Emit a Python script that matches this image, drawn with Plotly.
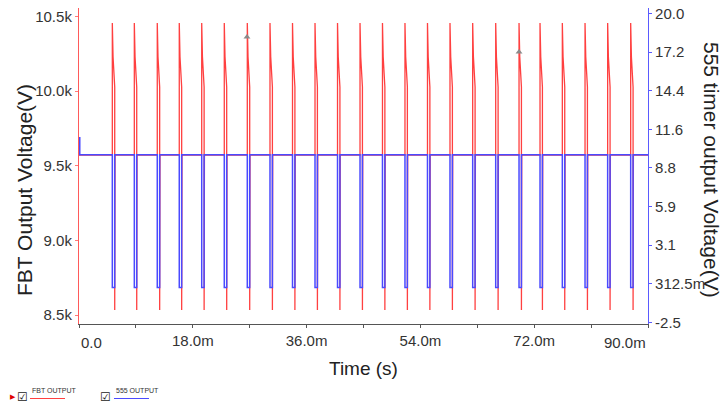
import plotly.graph_objects as go

# ---- data ----
# times of the 555 falling edges / FBT spikes, in ms
pulse_start_ms = [5.27, 8.75, 12.38, 15.86, 19.41, 22.98, 26.62, 30.21, 33.77, 37.33,
                  40.89, 44.45, 48.00, 51.56, 55.12, 58.68, 62.27, 65.91, 69.60, 72.92,
                  76.45, 80.04, 83.62, 87.26]
pulse_width_ms = 0.38
# FBT output levels (V)
fbt_base = 9572
fbt_peak = 10456
fbt_mid = 10230
fbt_knee = 10027
fbt_dip = 8535
# 555 output levels (V)
timer_start = 11.0
timer_high = 9.7
timer_low = 0.05
timer_start_t_ms = 0.12
t_end_ms = 90.0
# probe cursor markers seen on the FBT trace
cursor_t_ms = [26.57, 69.60]
cursor_v = [10362, 10262]

x_tick_vals = [0, 9, 18, 27, 36, 45, 54, 63, 72, 81, 90]
x_tick_text = ["", "", "18.0m", "", "36.0m", "", "54.0m", "", "72.0m", "", ""]
left_tick_vals = [8500, 9000, 9500, 10000, 10500]
left_tick_text = ["8.5k", "9.0k", "9.5k", "10.0k", "10.5k"]
right_tick_vals = [-2.5, 0.3125, 3.125, 5.9375, 8.75, 11.5625, 14.375, 17.1875, 20.0]
right_tick_text = ["-2.5", "312.5m", "3.1", "5.9", "8.8", "11.6", "14.4", "17.2", "20.0"]

# ---- build piecewise waveforms from the read levels ----
fbt_t, fbt_v = [0.0], [fbt_base]
tmr_t = [timer_start_t_ms, timer_start_t_ms]
tmr_v = [timer_start, timer_high]
for t0 in pulse_start_ms:
    fbt_t += [t0, t0, t0 + pulse_width_ms * 0.3, t0 + pulse_width_ms,
              t0 + pulse_width_ms, t0 + pulse_width_ms + 0.05]
    fbt_v += [fbt_base, fbt_peak, fbt_mid, fbt_knee, fbt_dip, fbt_base]
    tmr_t += [t0, t0, t0 + pulse_width_ms, t0 + pulse_width_ms]
    tmr_v += [timer_high, timer_low, timer_low, timer_high]
fbt_t.append(t_end_ms); fbt_v.append(fbt_base)
tmr_t.append(t_end_ms); tmr_v.append(timer_high)

FONT = "Liberation Sans, Arial, sans-serif"
TXT = "#333333"
TTL = "#222222"

# plot area in figure pixels
L, R, T, B = 79, 648, 8, 324
W, H = 727, 409


def px(x):
    return (x - L) / (R - L)


def py(y):
    return (B - y) / (B - T)


fig = go.Figure()
fig.add_trace(go.Scatter(x=fbt_t, y=fbt_v, mode="lines", name="FBT OUTPUT",
                         line=dict(color="#ff4040", width=1.3), yaxis="y"))
fig.add_trace(go.Scatter(x=cursor_t_ms, y=cursor_v, mode="markers", name="cursor",
                         marker=dict(symbol="triangle-up", size=6, color="#8a8a8a"),
                         yaxis="y"))
fig.add_trace(go.Scatter(x=tmr_t, y=tmr_v, mode="lines", name="555 OUTPUT",
                         line=dict(color="#4a4aff", width=1.5), yaxis="y2"))

fig.update_layout(
    width=W, height=H,
    margin=dict(l=L, r=W - R, t=T, b=H - B),
    paper_bgcolor="white", plot_bgcolor="white",
    showlegend=False,
    font=dict(family=FONT, size=15, color=TXT),
    xaxis=dict(range=[0, 90], tickvals=x_tick_vals, ticktext=x_tick_text, automargin=False,
               showgrid=False, zeroline=False, showline=True, linecolor="#555555",
               linewidth=1, ticks="outside", ticklen=3, tickcolor="#555555",
               layer="below traces",
               tickfont=dict(size=15, color=TXT, family=FONT)),
    yaxis=dict(range=[8441, 10556], tickvals=left_tick_vals, ticktext=left_tick_text,
               automargin=False, layer="below traces",
               showgrid=False, zeroline=False, showline=True, linecolor="#ff5a5a",
               linewidth=1.2, ticks="outside", ticklen=3, tickcolor="#ff7a7a",
               tickfont=dict(size=15, color=TXT, family=FONT)),
    yaxis2=dict(range=[-2.61, 20.39], tickvals=right_tick_vals, ticktext=right_tick_text,
                overlaying="y", side="right", anchor="x", automargin=False,
                showgrid=False, zeroline=False, showline=True, linecolor="#5a5aff",
                linewidth=1.2, ticks="outside", ticklen=3, tickcolor="#5a5aff",
                tickfont=dict(size=15, color=TXT, family=FONT)),
)

# edge tick labels shifted inward like the reference
fig.add_annotation(x=0, y=py(342), xref="x", yref="paper", text="0.0", showarrow=False,
                   xanchor="left", yanchor="middle",
                   font=dict(size=15, color=TXT, family=FONT))
fig.add_annotation(x=90, y=py(342), xref="x", yref="paper", text="90.0m", showarrow=False,
                   xanchor="right", yanchor="middle",
                   font=dict(size=15, color=TXT, family=FONT))

# axis titles
fig.add_annotation(x=px(24), y=py(190), xref="paper", yref="paper", text="FBT Output Voltage(V)",
                   showarrow=False, textangle=-90, xanchor="center", yanchor="middle",
                   font=dict(size=21, color=TTL, family=FONT))
fig.add_annotation(x=px(712), y=py(170), xref="paper", yref="paper",
                   text="555 timer output Voltage(V)",
                   showarrow=False, textangle=90, xanchor="center", yanchor="middle",
                   font=dict(size=21, color=TTL, family=FONT))
fig.add_annotation(x=px(363), y=py(368), xref="paper", yref="paper", text="Time (s)",
                   showarrow=False, xanchor="center", yanchor="middle",
                   font=dict(size=19, color=TTL, family=FONT))

# legend strip at the bottom-left
fig.add_annotation(x=px(13), y=py(397), xref="paper", yref="paper", text="▶", showarrow=False,
                   xanchor="center", yanchor="middle",
                   font=dict(size=7, color="#e00000", family="DejaVu Sans"))
leg = [("☑", "FBT OUTPUT", "#ff4040", 22, 30), ("☑", "555 OUTPUT", "#4a4aff", 105, 114)]
for box, label, col, bx, tx in leg:
    fig.add_annotation(x=px(bx), y=py(397), xref="paper", yref="paper", text=box,
                       showarrow=False, xanchor="center", yanchor="middle",
                       font=dict(size=12, color="#222222", family="DejaVu Sans"))
    fig.add_annotation(x=px(tx), y=py(390), xref="paper", yref="paper", text=label,
                       showarrow=False, xanchor="left", yanchor="middle",
                       font=dict(size=7, color="#333333", family=FONT))
    fig.add_shape(type="line", xref="paper", yref="paper",
                  x0=px(tx), x1=px(tx + 35), y0=py(398.5), y1=py(398.5),
                  line=dict(color=col, width=1.2))

fig.write_html("out.html", config={"displayModeBar": False},
               post_script="document.body.style.margin='0';"
                           "document.documentElement.style.overflow='hidden';")
